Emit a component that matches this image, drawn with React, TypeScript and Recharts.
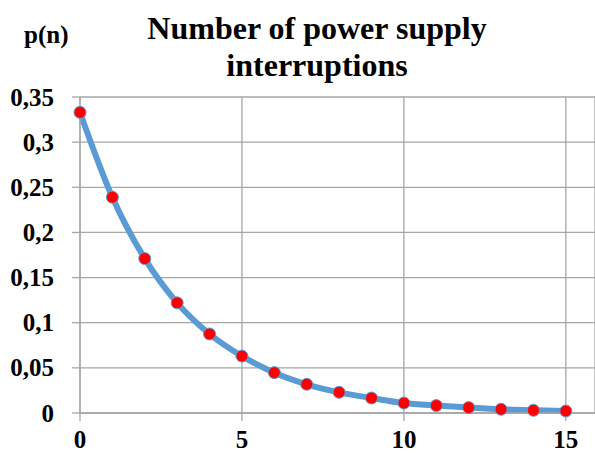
import React from "react";
import { LineChart, Line, XAxis, YAxis, CartesianGrid } from "recharts";

const interruptions = [0, 1, 2, 3, 4, 5, 6, 7, 8, 9, 10, 11, 12, 13, 14, 15];
const probability = [
  0.333, 0.239, 0.171, 0.122, 0.0875, 0.063, 0.0447, 0.0318, 0.0229, 0.0166,
  0.011, 0.0082, 0.006, 0.0041, 0.003, 0.0022,
];
const xTicks = [0, 5, 10, 15];
const yTicks = [0, 0.05, 0.1, 0.15, 0.2, 0.25, 0.3, 0.35];

const data = interruptions.map((n, i) => ({ n, p: probability[i] }));

const serif = "'Liberation Serif', 'Times New Roman', serif";
const gridColor = "#a6a6a6";
const tickStyle = { fontFamily: serif, fontWeight: 700, fontSize: 25, fill: "#000" };

const fmt = (v: number) => String(v).replace(".", ",");

// custom ticks so the serif bold font is actually used
const XTick = (props: any) => {
  const { x, y, payload } = props;
  return (
    <text x={x} y={y + 25} textAnchor="middle" style={tickStyle}>
      {payload.value}
    </text>
  );
};

const YTick = (props: any) => {
  const { x, y, payload } = props;
  return (
    <text x={x - 16} y={y + 8.5} textAnchor="end" style={tickStyle}>
      {fmt(payload.value)}
    </text>
  );
};

export default function App() {
  return (
    <div style={{ position: "absolute", left: 0, top: 0, width: 595, height: 454, background: "#fff" }}>
      <LineChart
        width={595}
        height={454}
        data={data}
        margin={{ top: 97, right: 0, bottom: 0, left: 0 }}
      >
        <CartesianGrid stroke={gridColor} strokeWidth={1.3} />
        <XAxis
          dataKey="n"
          type="number"
          domain={[0, 15.9]}
          ticks={xTicks}
          height={41}
          tickSize={8}
          stroke={gridColor}
          strokeWidth={1.3}
          tick={<XTick />}
        />
        <YAxis
          type="number"
          domain={[0, 0.35]}
          ticks={yTicks}
          width={80}
          tickSize={8}
          stroke={gridColor}
          strokeWidth={1.3}
          tick={<YTick />}
        />
        <Line
          type="monotone"
          dataKey="p"
          stroke="#5b9bd5"
          strokeWidth={6}
          dot={{ r: 6, fill: "#ff0000", stroke: "#5b9bd5", strokeWidth: 1 }}
          isAnimationActive={false}
        />
      </LineChart>
      <svg
        width={595}
        height={454}
        style={{ position: "absolute", left: 0, top: 0, pointerEvents: "none" }}
      >
        <text x={24} y={43} style={{ fontFamily: serif, fontWeight: 700, fontSize: 25 }}>
          p(n)
        </text>
        <text x={317} y={39} textAnchor="middle" style={{ fontFamily: serif, fontWeight: 700, fontSize: 32 }}>
          Number of power supply
        </text>
        <text x={317} y={76} textAnchor="middle" style={{ fontFamily: serif, fontWeight: 700, fontSize: 32 }}>
          interruptions
        </text>
      </svg>
    </div>
  );
}
